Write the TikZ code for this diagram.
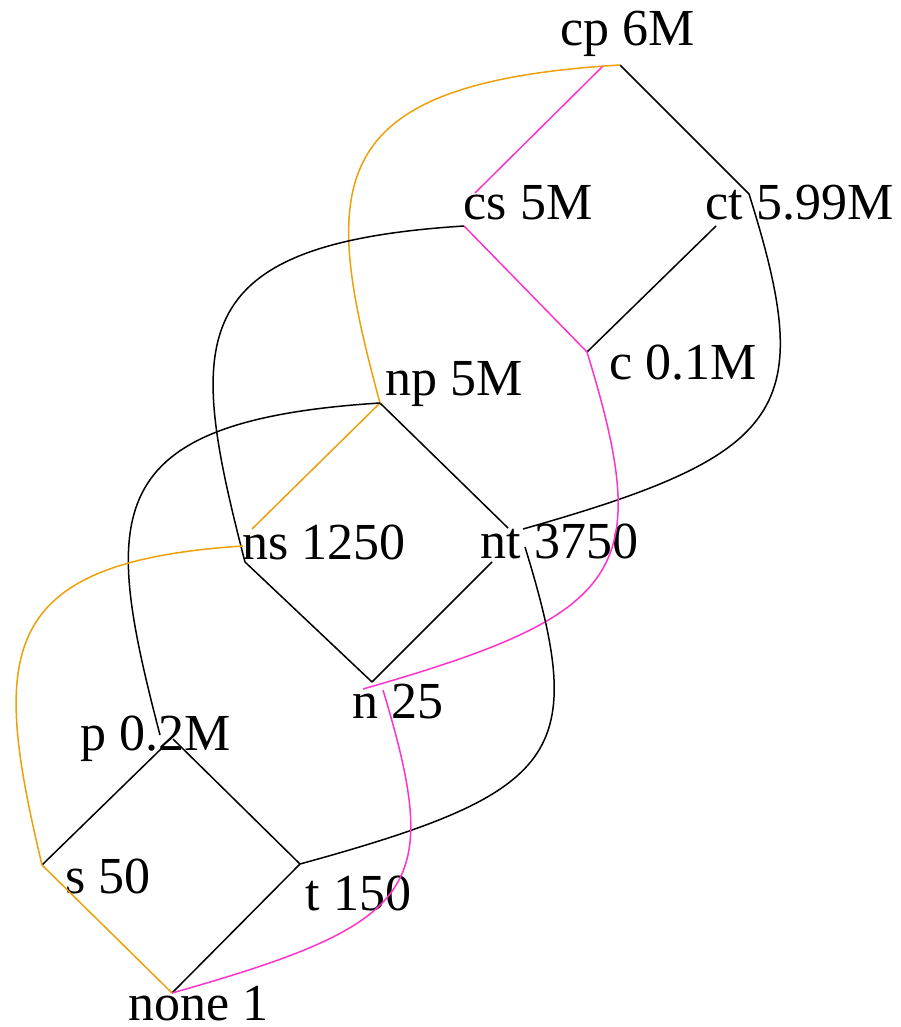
\documentclass[tikz,border=0pt]{standalone}
\usepackage{fontspec}
\setmainfont{Liberation Serif}
\definecolor{latorange}{RGB}{236,160,10}
\definecolor{latpink}{RGB}{255,51,204}

\begin{document}
\begin{tikzpicture}[x=1pt, y=-1pt, line width=1.5pt,
  every node/.style={font=\fontsize{52}{60}\selectfont, inner sep=0pt, anchor=base west}]
\useasboundingbox (0,0) rectangle (900,1027);
% vertices (with the end points the edges use)
\coordinate (cp) at (620,65);   \coordinate (cps) at (603,66);
\coordinate (cs) at (464,226);  \coordinate (csp) at (475,193);
\coordinate (ct) at (749,194);  \coordinate (ctc) at (716,226);
\coordinate (c) at (587,352);
\coordinate (np) at (380,403);
\coordinate (ns) at (245,562);  \coordinate (nsp) at (252,529); \coordinate (nss) at (243,546);
\coordinate (nt) at (523,529);  \coordinate (ntp) at (508,528);
\coordinate (ntt) at (525,547); \coordinate (ntn) at (492,562);
\coordinate (n) at (372,682);   \coordinate (nc) at (363,689); \coordinate (nnone) at (383,690);
\coordinate (p) at (173,739);   \coordinate (ps) at (162,748); \coordinate (pnp) at (160,735);
\coordinate (s) at (42,865);
\coordinate (t) at (300,864);
\coordinate (none) at (172,993);
% labels
\node (lcp) at (560,46) {cp 6M};
\node (lcs) at (463,219) {cs 5M};
\node (lct) at (705,219) {ct 5.99M};
\node (lnp) at (385,395) {np 5M};
\node (lc) at (609,379) {c 0.1M};
\node (lns) at (242,559) {ns 1250};
\node (lnt) at (480,558) {nt 3750};
\node (ln) at (352,718) {n 25};
\node (lp) at (80,750) {p 0.2M};
\node (ls) at (65,893) {s 50};
\node (lt) at (305,910) {t 150};
\node (lnone) at (128,1020) {none 1};
% straight edges
\draw (cp) -- (ct);
\draw (ctc) -- (c);
\draw (np) -- (ntp);
\draw (ntn) -- (n);
\draw (ns) -- (n);
\draw (ps) -- (s);
\draw (p) -- (t);
\draw (t) -- (none);
\draw[latpink] (cps) -- (csp);
\draw[latpink] (cs) -- (c);
\draw[latorange] (np) -- (nsp);
\draw[latorange] (s) -- (none);
% curved edges
\draw[latorange] (np) .. controls +(-60,-220) and +(-300,18) .. (cp);
\draw (pnp) .. controls +(-57,-219) and +(-285,18) .. (np);
\draw (ns) .. controls +(-57,-221) and +(-285,18) .. (cs);
\draw[latorange] (s) .. controls +(-50,-210) and +(-250,16) .. (nss);
\draw (nt) .. controls +(265,-75) and +(68,216) .. (ct);
\draw[latpink] (nc) .. controls +(262,-75) and +(68,221) .. (c);
\draw (t) .. controls +(262,-72) and +(64,208) .. (ntt);
\draw[latpink] (none) .. controls +(248,-70) and +(60,199) .. (nnone);
\end{tikzpicture}
\end{document}
